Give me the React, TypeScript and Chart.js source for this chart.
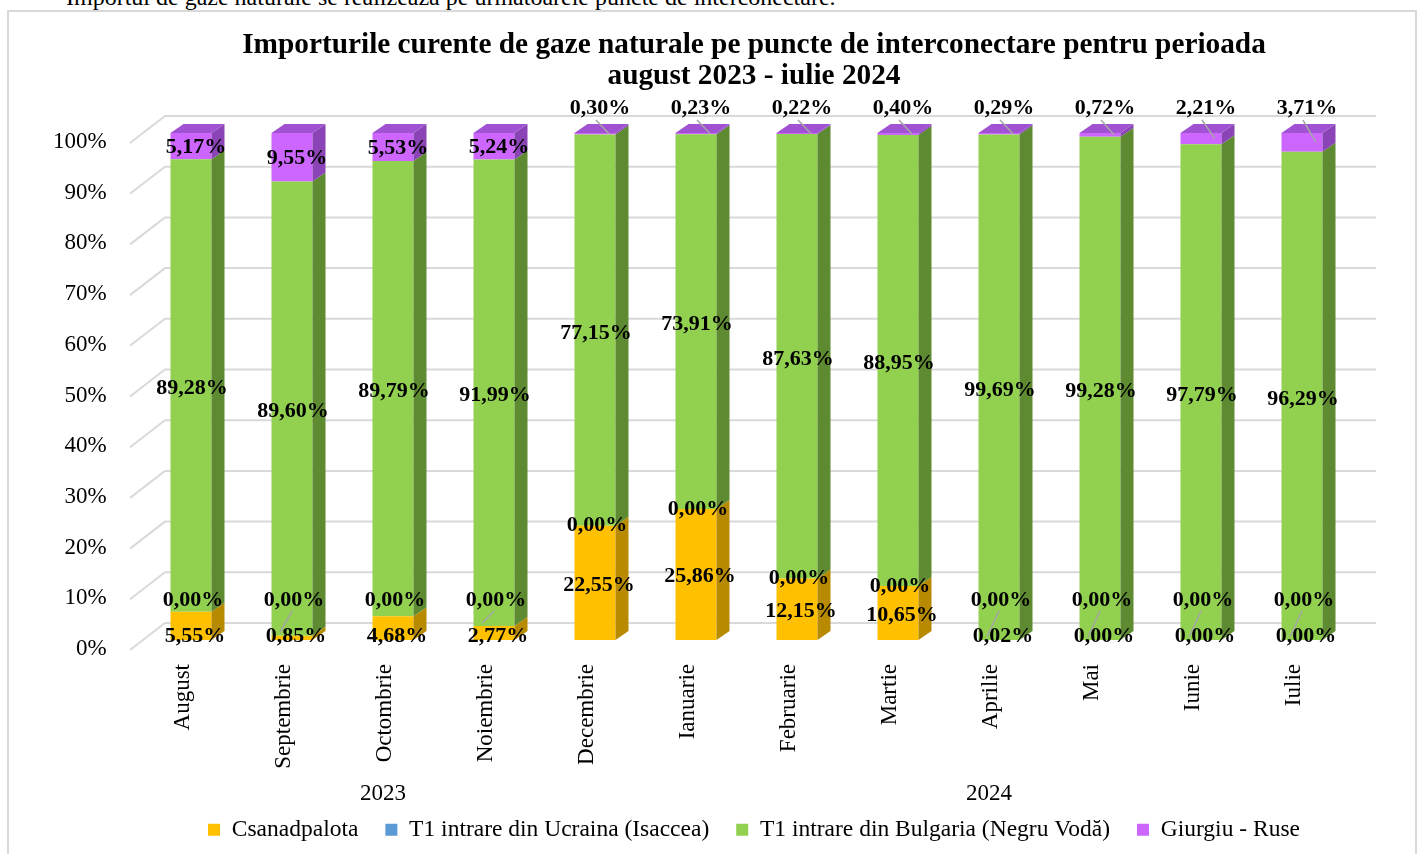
import React, { useEffect, useRef } from "react";
import { Chart, registerables } from "chart.js";

Chart.register(...registerables);

// ---------- data ----------
const months = [
  "August", "Septembrie", "Octombrie", "Noiembrie", "Decembrie", "Ianuarie",
  "Februarie", "Martie", "Aprilie", "Mai", "Iunie", "Iulie",
];
const yearLabels = ["2023", "2024"];
const yearMonthCounts = [5, 7];
const seriesNames = [
  "Csanadpalota",
  "T1 intrare din Ucraina (Isaccea)",
  "T1 intrare din Bulgaria (Negru Vodă)",
  "Giurgiu - Ruse",
];
const csanadpalota = [5.55, 0.85, 4.68, 2.77, 22.55, 25.86, 12.15, 10.65, 0.02, 0.0, 0.0, 0.0];
const isaccea = [0, 0, 0, 0, 0, 0, 0, 0, 0, 0, 0, 0];
const negruVoda = [89.28, 89.6, 89.79, 91.99, 77.15, 73.91, 87.63, 88.95, 99.69, 99.28, 97.79, 96.29];
const giurgiuRuse = [5.17, 9.55, 5.53, 5.24, 0.3, 0.23, 0.22, 0.4, 0.29, 0.72, 2.21, 3.71];
const yTickValues = [0, 10, 20, 30, 40, 50, 60, 70, 80, 90, 100];

const titleLines = [
  "Importurile curente de gaze naturale pe puncte de interconectare pentru perioada",
  "august 2023 - iulie 2024",
];
const pageText = "Importul de gaze naturale se realizează pe următoarele puncte de interconectare.";

// ---------- styles ----------
const frontColors = ["#FFC000", "#5B9BD5", "#92D050", "#CC66FF"];
const sideColors = ["#B88A00", "#41719C", "#5E8A31", "#8A44B5"];
const topColors = ["#D9A300", "#4E86BD", "#78B040", "#A052D2"];
const GRID = "#D9D9D9";
const LEADER = "#A6A6A6";
const SERIF = '"Liberation Serif", "Times New Roman", serif';
const DX = 13;
const DY = 9;

const fmt = (v: number) => v.toFixed(2).replace(".", ",") + "%";

const depthPlugin = {
  id: "depth3d",
  beforeDatasetsDraw(chart: any) {
    const { ctx, chartArea, scales } = chart;
    const ys = scales.y;
    ctx.save();
    ctx.strokeStyle = GRID;
    ctx.lineWidth = 2;
    for (const t of yTickValues) {
      const py = ys.getPixelForValue(t);
      ctx.beginPath();
      ctx.moveTo(chartArea.left - 10.5, py + 10);
      ctx.lineTo(chartArea.left + 24.5, py - 17);
      ctx.lineTo(chartArea.right + 23.5, py - 17);
      ctx.stroke();
    }
    ctx.restore();
  },
  afterDatasetsDraw(chart: any) {
    const { ctx, scales } = chart;
    const xs = scales.x;
    const metas = chart.data.datasets.map((_: any, d: number) => chart.getDatasetMeta(d));
    const series = chart.data.datasets.map((ds: any) => ds.data as number[]);
    ctx.save();
    // side and top faces
    for (let i = 0; i < months.length; i++) {
      let topEl: any = null;
      let topD = -1;
      for (let d = 0; d < metas.length; d++) {
        const el = metas[d].data[i];
        const { x, y, base, width } = el.getProps(["x", "y", "base", "width"], true);
        const h = base - y;
        if (h > 0.3) {
          const R = x + width / 2;
          ctx.fillStyle = sideColors[d];
          ctx.beginPath();
          ctx.moveTo(R, y);
          ctx.lineTo(R + DX, y - DY);
          ctx.lineTo(R + DX, base - DY);
          ctx.lineTo(R, base);
          ctx.closePath();
          ctx.fill();
          topEl = { x, y, width };
          topD = d;
        }
      }
      if (topEl) {
        const L = topEl.x - topEl.width / 2;
        const R = topEl.x + topEl.width / 2;
        ctx.fillStyle = topColors[topD];
        ctx.beginPath();
        ctx.moveTo(L, topEl.y);
        ctx.lineTo(L + DX, topEl.y - DY);
        ctx.lineTo(R + DX, topEl.y - DY);
        ctx.lineTo(R, topEl.y);
        ctx.closePath();
        ctx.fill();
      }
    }
    // data labels
    ctx.font = `bold 22px ${SERIF}`;
    ctx.textAlign = "center";
    ctx.textBaseline = "middle";
    ctx.lineWidth = 1.5;
    ctx.strokeStyle = LEADER;
    for (let i = 0; i < months.length; i++) {
      const els = metas.map((m: any) => m.data[i].getProps(["x", "y", "base", "width"], true));
      const cx = els[0].x;
      const barTop = els[3].y;
      for (let d = 0; d < metas.length; d++) {
        const v = series[d][i];
        const el = els[d];
        const mid = (el.y + el.base) / 2;
        let lx = cx + 2;
        let ly = mid;
        let leader: number[] | null = null;
        if (d === 0) {
          lx = cx + 4;
          ly = v >= 6 ? mid + 2 : el.base - 4;
        } else if (d === 1) {
          const yTop = els[0].y;
          ly = Math.min(yTop, 600);
          if (yTop - (ly + 12) > 6) leader = [lx - 2, ly + 11, cx - 12, yTop - 3];
        } else if (d === 2) {
          lx = cx + 1;
          ly = mid + 3;
        } else {
          lx = cx + 5;
          if (v >= 5) {
            ly = mid + 1;
          } else {
            ly = barTop - 25;
            leader = [lx - 4, ly + 12, cx + 14, Math.max(mid, ly + 24)];
          }
        }
        if (leader) {
          ctx.beginPath();
          ctx.moveTo(leader[0], leader[1]);
          ctx.lineTo(leader[2], leader[3]);
          ctx.stroke();
        }
        ctx.fillStyle = "#000";
        ctx.fillText(fmt(v), lx, ly);
      }
    }
    // year group labels
    ctx.font = `23px ${SERIF}`;
    ctx.fillStyle = "#000";
    let start = 0;
    for (let g = 0; g < yearLabels.length; g++) {
      const end = start + yearMonthCounts[g] - 1;
      const gx = (xs.getPixelForValue(start) + xs.getPixelForValue(end)) / 2 - 10;
      ctx.fillText(yearLabels[g], gx, 794);
      start = end + 1;
    }
    ctx.restore();
  },
};

export default function App() {
  const ref = useRef<HTMLCanvasElement>(null);

  useEffect(() => {
    if (!ref.current) return;
    const values = [csanadpalota, isaccea, negruVoda, giurgiuRuse];
    const chart = new Chart(ref.current, {
      type: "bar",
      data: {
        labels: months,
        datasets: seriesNames.map((name, d) => ({
          label: name,
          data: values[d],
          backgroundColor: frontColors[d],
          borderWidth: 0,
          barPercentage: 0.406,
          categoryPercentage: 1,
        })),
      },
      options: {
        responsive: false,
        animation: false,
        events: [],
        layout: { padding: { left: 89, right: 0, top: 0, bottom: 2.5 } },
        plugins: {
          title: {
            display: true,
            text: titleLines,
            color: "#000",
            font: { family: SERIF, size: 29.3, weight: "bold", lineHeight: 1.065 },
            padding: { top: 29.4, bottom: 41.2 },
          },
          legend: {
            display: true,
            position: "bottom",
            labels: {
              color: "#000",
              font: { family: SERIF, size: 23.5 },
              boxWidth: 12,
              boxHeight: 12,
              padding: 27,
            },
          },
          tooltip: { enabled: false },
        },
        scales: {
          x: {
            stacked: true,
            grid: { display: false, drawTicks: false },
            border: { display: false },
            ticks: {
              autoSkip: false,
              minRotation: 90,
              maxRotation: 90,
              padding: 24,
              labelOffset: -8,
              color: "#000",
              font: { family: SERIF, size: 23 },
            },
            afterFit: (s: any) => {
              const lh = s.chart.legend ? s.chart.legend.height : 0;
              s.height = s.chart.height - 2.5 - lh - 640;
            },
          },
          y: {
            stacked: true,
            min: 0,
            max: 100,
            grid: { display: false, drawTicks: false },
            border: { display: false },
            ticks: {
              stepSize: 10,
              mirror: true,
              crossAlign: "far",
              padding: -87.5,
              labelOffset: 9,
              color: "#000",
              font: { family: SERIF, size: 23 },
              callback: (v: any) => v + "%",
            },
            afterFit: (s: any) => {
              s.width = 51.5;
            },
          },
          yR: {
            position: "right",
            display: true,
            grid: { display: false, drawTicks: false },
            border: { display: false },
            ticks: { display: false },
            afterFit: (s: any) => {
              s.width = 66.5;
            },
          },
        },
      } as any,
      plugins: [depthPlugin],
    });
    return () => chart.destroy();
  }, []);

  return (
    <div
      style={{
        position: "fixed",
        left: 0,
        top: 0,
        width: 1419,
        height: 854,
        overflow: "hidden",
        background: "#fff",
      }}
    >
      <div
        style={{
          position: "absolute",
          left: 66,
          top: -15,
          fontFamily: SERIF,
          fontSize: 24,
          lineHeight: "24px",
          whiteSpace: "nowrap",
          color: "#000",
        }}
      >
        {pageText}
      </div>
      <div
        style={{
          position: "absolute",
          left: 7,
          top: 10,
          width: 1410,
          height: 860,
          border: "2px solid #D9D9D9",
          boxSizing: "border-box",
        }}
      />
      <canvas
        ref={ref}
        width={1419}
        height={854}
        style={{ position: "absolute", left: 0, top: 0 }}
      />
    </div>
  );
}
